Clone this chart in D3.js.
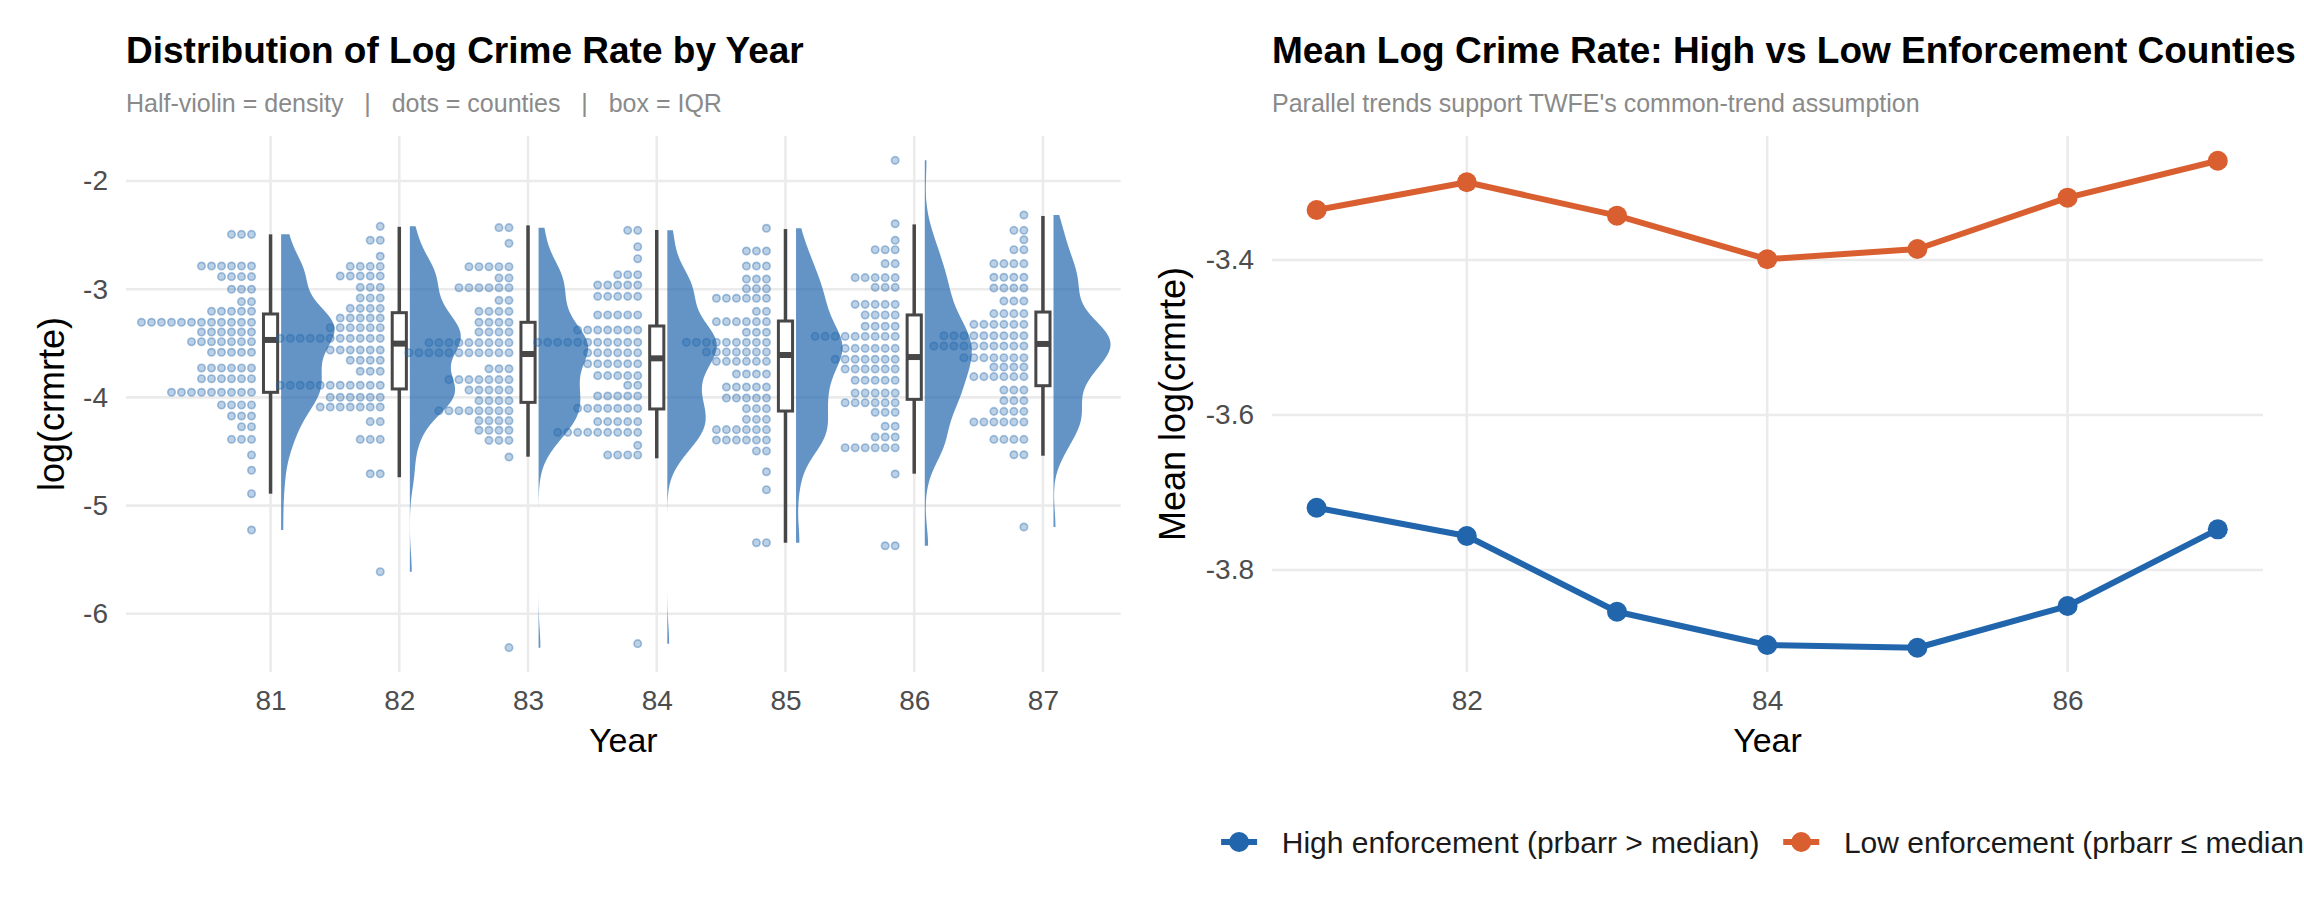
<!DOCTYPE html>
<html>
<head>
<meta charset="utf-8">
<script src="https://cdn.jsdelivr.net/npm/d3@7"></script>
<style>
  body { margin: 0; background: #fff; }
  svg { display: block; }
</style>
</head>
<body>
<script>
// ---- data ----
const years = [81, 82, 83, 84, 85, 86, 87]

// dot rows per year: [log(crmrte) bin, number of counties]
const dots81 = [[-2.493,3],[-2.786,6],[-2.884,4],[-3.001,3],[-3.115,2],[-3.204,5],[-3.306,12],[-3.396,6],[-3.485,7],[-3.583,5],[-3.728,6],[-3.827,6],[-3.953,9],[-4.070,4],[-4.172,3],[-4.271,2],[-4.388,3],[-4.532,1],[-4.674,1],[-4.890,1],[-5.226,1]]
const dots82 = [[-2.419,1],[-2.548,2],[-2.696,1],[-2.789,4],[-2.878,5],[-2.983,3],[-3.081,3],[-3.177,4],[-3.266,5],[-3.356,6],[-3.454,11],[-3.562,6],[-3.657,4],[-3.759,3],[-3.888,11],[-3.999,6],[-4.089,7],[-4.224,2],[-4.388,3],[-4.706,2],[-5.611,1]]
const dots83 = [[-2.431,2],[-2.576,1],[-2.792,5],[-2.896,2],[-2.986,6],[-3.103,2],[-3.205,4],[-3.306,4],[-3.396,4],[-3.494,9],[-3.587,11],[-3.735,3],[-3.836,7],[-3.932,5],[-4.030,4],[-4.123,8],[-4.215,4],[-4.304,4],[-4.397,3],[-4.551,1],[-6.313,1]]
const dots84 = [[-2.456,2],[-2.607,1],[-2.718,1],[-2.866,3],[-2.961,5],[-3.066,5],[-3.238,5],[-3.377,7],[-3.491,11],[-3.587,6],[-3.689,6],[-3.799,5],[-3.888,2],[-3.987,5],[-4.101,7],[-4.224,5],[-4.323,9],[-4.443,1],[-4.532,4],[-6.276,1]]
const dots85 = [[-2.437,1],[-2.647,3],[-2.786,3],[-2.906,3],[-2.995,3],[-3.084,6],[-3.205,2],[-3.300,6],[-3.398,3],[-3.491,9],[-3.580,7],[-3.667,6],[-3.784,4],[-3.904,5],[-4.006,5],[-4.104,3],[-4.203,3],[-4.298,6],[-4.394,6],[-4.495,2],[-4.687,1],[-4.853,1],[-5.343,2]]
const dots86 = [[-1.809,1],[-2.395,1],[-2.548,1],[-2.635,3],[-2.764,2],[-2.893,5],[-2.983,3],[-3.140,5],[-3.238,4],[-3.343,4],[-3.436,9],[-3.547,6],[-3.648,7],[-3.738,6],[-3.842,5],[-3.959,5],[-4.049,6],[-4.138,3],[-4.267,2],[-4.366,3],[-4.465,6],[-4.708,1],[-5.371,2]]
const dots87 = [[-2.314,1],[-2.456,2],[-2.543,1],[-2.635,2],[-2.764,4],[-2.890,4],[-2.989,4],[-3.109,3],[-3.226,4],[-3.325,6],[-3.430,9],[-3.525,10],[-3.633,7],[-3.719,4],[-3.808,6],[-3.932,3],[-4.030,3],[-4.129,4],[-4.227,6],[-4.388,4],[-4.530,2],[-5.198,1]]

// box plot stats per year
const whiskLo = [-4.890, -4.738, -4.548, -4.563, -5.343, -4.705, -4.539]
const q1      = [-3.953, -3.922, -4.046, -4.107, -4.126, -4.018, -3.892]
const med     = [-3.469, -3.503, -3.599, -3.639, -3.608, -3.627, -3.506]
const q3      = [-3.229, -3.217, -3.306, -3.340, -3.294, -3.238, -3.211]
const whiskHi = [-2.493, -2.423, -2.410, -2.453, -2.444, -2.401, -2.323]

// right panel: mean log crime rate by group
const highEnf = [-3.7196, -3.7561, -3.8538, -3.8968, -3.9003, -3.8465, -3.7475]
const lowEnf  = [-3.3355, -3.2997, -3.3428, -3.3990, -3.3858, -3.3196, -3.2719]
const legendLabels = ['High enforcement (prbarr > median)', 'Low enforcement (prbarr \u2264 median)']

const yTicksLeft = [-6, -5, -4, -3, -2]
const yTicksRight = [-3.8, -3.6, -3.4]
const xTicksRight = [82, 84, 86]

// ---- setup ----
const FONT = '"Liberation Sans", Arial, Helvetica, sans-serif'
const BLUE = '#2166AC'
const ORANGE = '#D95F30'
const GRID = '#ebebeb'

const svg = d3.select('body').append('svg')
  .attr('width', 2304)
  .attr('height', 921)
  .style('font-family', FONT)

svg.append('rect').attr('width', 2304).attr('height', 921).attr('fill', '#fff')

const xL = d3.scaleLinear().domain([79.877, 87.604]).range([126, 1120.7])
const yL = d3.scaleLinear().domain([-6.538, -1.584]).range([672, 136])
const xR = d3.scaleLinear().domain([80.703, 87.301]).range([1272, 2263])
const yR = d3.scaleLinear().domain([-3.9316, -3.24]).range([672, 136])

function grid(xs, ys, xv, yv) {
  let g = svg.append('g')
  g.selectAll('.gy').data(yv).enter().append('line')
    .attr('x1', xs.range()[0]).attr('x2', xs.range()[1])
    .attr('y1', d => ys(d)).attr('y2', d => ys(d))
    .attr('stroke', GRID).attr('stroke-width', 2.6)
  g.selectAll('.gx').data(xv).enter().append('line')
    .attr('x1', d => xs(d)).attr('x2', d => xs(d))
    .attr('y1', ys.range()[0]).attr('y2', ys.range()[1])
    .attr('stroke', GRID).attr('stroke-width', 2.6)
}

function axes(xs, ys, xv, yv, yTitle, yTitleX) {
  let gx = svg.append('g').attr('transform', 'translate(0,672)')
    .call(d3.axisBottom(xs).tickValues(xv).tickSize(0).tickPadding(18).tickFormat(d => String(d)))
  let gy = svg.append('g').attr('transform', 'translate(' + xs.range()[0] + ',0)')
    .call(d3.axisLeft(ys).tickValues(yv).tickSize(0).tickPadding(18).tickFormat(d => String(d)))
  ;[gx, gy].forEach(g => {
    g.select('.domain').remove()
    g.attr('font-family', FONT).attr('font-size', 28)
    g.selectAll('text').attr('fill', '#4d4d4d')
  })
  let cx = (xs.range()[0] + xs.range()[1]) / 2
  svg.append('text').text('Year')
    .attr('x', cx).attr('y', 752)
    .attr('text-anchor', 'middle').attr('font-size', 34).attr('fill', '#000')
  svg.append('text').text(yTitle)
    .attr('transform', 'translate(' + yTitleX + ',404) rotate(-90)')
    .attr('text-anchor', 'middle').attr('font-size', 36).attr('fill', '#000')
}

function titles(x, title, sub) {
  svg.append('text').text(title)
    .attr('x', x).attr('y', 63)
    .attr('font-size', 37).attr('font-weight', 'bold').attr('fill', '#000')
  svg.append('text').text(sub)
    .attr('x', x).attr('y', 112)
    .attr('font-size', 25).attr('fill', '#8a8a8a')
    .style('white-space', 'pre')
}

// ---- left panel: raincloud ----
grid(xL, yL, years, yTicksLeft)

const allDots = [dots81, dots82, dots83, dots84, dots85, dots86, dots87]

// gaussian kde with R's nrd0 bandwidth (slightly narrowed), trimmed to data range
function kde(values) {
  let v = values.slice().sort(d3.ascending)
  let sd = d3.deviation(v)
  let iqr = d3.quantile(v, 0.75) - d3.quantile(v, 0.25)
  let bw = 0.85 * 0.9 * Math.min(sd, iqr / 1.34) * Math.pow(v.length, -0.2)
  let lo = v[0], hi = v[v.length - 1]
  return d3.range(512).map(i => {
    let t = lo + (hi - lo) * i / 511
    let dens = d3.mean(v, x => Math.exp(-0.5 * ((t - x) / bw) ** 2)) / (bw * Math.sqrt(2 * Math.PI))
    return { t: t, d: dens }
  })
}

const dens = allDots.map(rows => kde(rows.flatMap(r => d3.range(r[1]).map(() => r[0]))))
const maxD = d3.max(dens, ds => d3.max(ds, d => d.d))
const violinW = 57 // px for the widest point of all violins

dens.forEach((ds, i) => {
  let base = xL(years[i] + 0.082)
  let area = d3.area()
    .y(d => yL(d.t))
    .x0(base)
    .x1(d => base + d.d / maxD * violinW)
  svg.append('path')
    .attr('d', area(ds))
    .attr('fill', BLUE)
    .attr('fill-opacity', 0.7)
})

// boxes
let boxes = svg.append('g')
years.forEach((yr, i) => {
  let x0 = xL(yr - 0.055), x1 = xL(yr + 0.055), xc = xL(yr)
  boxes.append('line')
    .attr('x1', xc).attr('x2', xc)
    .attr('y1', yL(whiskHi[i])).attr('y2', yL(q3[i]))
    .attr('stroke', '#474747').attr('stroke-width', 3.5)
  boxes.append('line')
    .attr('x1', xc).attr('x2', xc)
    .attr('y1', yL(q1[i])).attr('y2', yL(whiskLo[i]))
    .attr('stroke', '#474747').attr('stroke-width', 3.5)
  boxes.append('rect')
    .attr('x', x0).attr('y', yL(q3[i]))
    .attr('width', x1 - x0).attr('height', yL(q1[i]) - yL(q3[i]))
    .attr('fill', '#fff').attr('stroke', '#474747').attr('stroke-width', 3)
  boxes.append('line')
    .attr('x1', x0).attr('x2', x1)
    .attr('y1', yL(med[i])).attr('y2', yL(med[i]))
    .attr('stroke', '#474747').attr('stroke-width', 6)
})

// dots stacked to the left of each year
const dotStart = 0.148, dotStep = 0.0777
allDots.forEach((rows, i) => {
  let pts = rows.flatMap(r => d3.range(r[1]).map(k => ({ v: r[0], k: k })))
  svg.append('g').selectAll('circle').data(pts).enter().append('circle')
    .attr('cx', d => xL(years[i] - dotStart - d.k * dotStep))
    .attr('cy', d => yL(d.v))
    .attr('r', 3.7)
    .attr('fill', BLUE).attr('fill-opacity', 0.3)
    .attr('stroke', BLUE).attr('stroke-opacity', 0.38).attr('stroke-width', 1.7)
})

axes(xL, yL, years, yTicksLeft, 'log(crmrte)', 64)
titles(126, 'Distribution of Log Crime Rate by Year', 'Half-violin = density   |   dots = counties   |   box = IQR')

// ---- right panel: mean trends ----
grid(xR, yR, xTicksRight, yTicksRight)

const series = [
  { vals: highEnf, color: BLUE, label: legendLabels[0] },
  { vals: lowEnf, color: ORANGE, label: legendLabels[1] }
]

let line = d3.line().x((d, i) => xR(years[i])).y(d => yR(d))
series.forEach(s => {
  svg.append('path')
    .attr('d', line(s.vals))
    .attr('fill', 'none')
    .attr('stroke', s.color)
    .attr('stroke-width', 6)
    .attr('stroke-linejoin', 'round')
  svg.append('g').selectAll('circle').data(s.vals).enter().append('circle')
    .attr('cx', (d, i) => xR(years[i]))
    .attr('cy', d => yR(d))
    .attr('r', 10)
    .attr('fill', s.color)
})

axes(xR, yR, xTicksRight, yTicksRight, 'Mean log(crmrte)', 1185)
titles(1272, 'Mean Log Crime Rate: High vs Low Enforcement Counties', "Parallel trends support TWFE's common-trend assumption")

// legend, centred under the right panel
let leg = svg.append('g')
let lx = 0
series.forEach(s => {
  let k = leg.append('g').attr('transform', 'translate(' + (lx + 18) + ',842)')
  k.append('line').attr('x1', -18).attr('x2', 18)
    .attr('stroke', s.color).attr('stroke-width', 6)
  k.append('circle').attr('r', 10).attr('fill', s.color)
  let t = leg.append('text').text(s.label)
    .attr('x', lx + 18 + 42.7).attr('y', 842).attr('dy', '0.35em')
    .attr('font-size', 30).attr('fill', '#1a1a1a')
  lx = lx + 18 + 42.7 + t.node().getComputedTextLength() + 23.7
})
let legW = lx - 23.7
leg.attr('transform', 'translate(' + ((1272 + 2263) / 2 - legW / 2) + ',0)')
</script>
</body>
</html>
